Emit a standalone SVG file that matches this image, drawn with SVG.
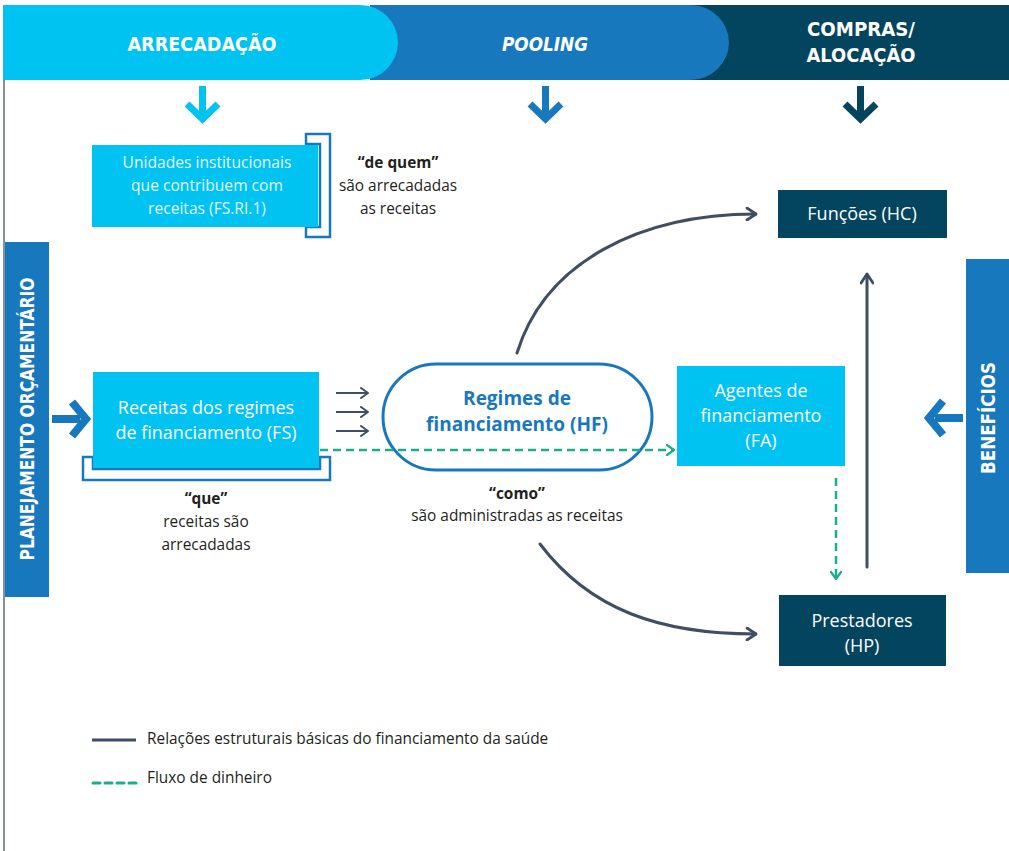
<svg xmlns="http://www.w3.org/2000/svg" width="1009" height="851" viewBox="0 0 1009 851">
<defs>
<style>
.t{font-family:"Open Sans","Liberation Sans",sans-serif}
.hd{font-family:"DejaVu Sans","Liberation Sans",sans-serif;font-weight:bold;fill:#fff;font-size:20px}
.wt{fill:#fff;font-size:18px}
.bk{fill:#231f20;font-size:15.4px}
.rel{fill:none;stroke:#3f4e62;stroke-width:3;stroke-linecap:round}
.fl{fill:none;stroke:#1aae8a;stroke-width:2.5;stroke-dasharray:8 5}
</style>
<marker id="ah" viewBox="0 0 12 14" refX="11" refY="7" markerWidth="12" markerHeight="14" markerUnits="userSpaceOnUse" orient="auto">
<path d="M2,1 L11,7 L2,13" fill="none" stroke="#3f4e62" stroke-width="2.8" stroke-linecap="round" stroke-linejoin="round"/>
</marker>
<marker id="ahs" viewBox="0 0 10 12" refX="9" refY="6" markerWidth="10" markerHeight="12" markerUnits="userSpaceOnUse" orient="auto">
<path d="M2,1 L9,6 L2,11" fill="none" stroke="#3f4e62" stroke-width="2" stroke-linecap="round" stroke-linejoin="round"/>
</marker>
<marker id="ahg" viewBox="0 0 10 12" refX="9" refY="6" markerWidth="10" markerHeight="12" markerUnits="userSpaceOnUse" orient="auto">
<path d="M2,1 L9,6 L2,11" fill="none" stroke="#1aae8a" stroke-width="2.2" stroke-linecap="round" stroke-linejoin="round"/>
</marker>
</defs>
<rect width="1009" height="851" fill="#fff"/>
<line x1="4" y1="12" x2="4" y2="851" stroke="#5f6b7a" stroke-width="1.5"/>

<g id="header">
<rect x="690" y="5" width="319" height="75" fill="#03445f"/>
<path d="M370,5 H690 A39,37.5 0 0 1 690,80 H370 Z" fill="#1878be"/>
<path d="M3,5 H360 A38,37.5 0 0 1 360,80 H3 Z" fill="#00c3f2"/>
<text class="hd" x="202" y="51" text-anchor="middle" textLength="149" lengthAdjust="spacingAndGlyphs">ARRECADAÇÃO</text>
<text class="hd" x="545" y="51" text-anchor="middle" font-style="italic" textLength="86" lengthAdjust="spacingAndGlyphs">POOLING</text>
<text class="hd" x="861" y="36" text-anchor="middle" textLength="108" lengthAdjust="spacingAndGlyphs">COMPRAS/</text>
<text class="hd" x="861" y="62" text-anchor="middle" textLength="109" lengthAdjust="spacingAndGlyphs">ALOCAÇÃO</text>
</g>

<g id="down-arrows">
<rect x="199" y="86" width="7" height="28" fill="#00c3f2"/>
<path d="M187,104 L202.5,119 L218,104" fill="none" stroke="#00c3f2" stroke-width="7"/>
<rect x="542" y="86" width="7" height="28" fill="#1878be"/>
<path d="M530,104 L545.5,119 L561,104" fill="none" stroke="#1878be" stroke-width="7"/>
<rect x="857" y="86" width="7" height="28" fill="#03445f"/>
<path d="M845,104 L860.5,119 L876,104" fill="none" stroke="#03445f" stroke-width="7"/>
</g>

<g id="unidades">
<path d="M306,134 H330 V237 H306 V227 H320 V144 H306 Z" fill="#fff" stroke="#1878be" stroke-width="2.5"/>
<rect x="92" y="145" width="226" height="82" fill="#00c3f2"/>
<text class="t" font-size="15.6" fill="#e4f8fe" text-anchor="middle"><tspan x="207" y="168">Unidades institucionais</tspan><tspan x="207" y="191">que contribuem com</tspan><tspan x="207" y="214">receitas (FS.RI.1)</tspan></text>
<text class="t bk" text-anchor="middle"><tspan x="398" y="168" font-weight="bold">“de quem”</tspan><tspan x="398" y="191">são arrecadadas</tspan><tspan x="398" y="214">as receitas</tspan></text>
</g>

<g id="planejamento">
<rect x="5" y="242" width="44" height="355" fill="#1878be"/>
<text class="hd" transform="translate(34,419) rotate(-90)" text-anchor="middle" font-size="18" textLength="283" lengthAdjust="spacingAndGlyphs">PLANEJAMENTO ORÇAMENTÁRIO</text>
<rect x="52" y="415" width="28" height="8" fill="#1878be"/>
<path d="M72,402 L86,419 L72,436" fill="none" stroke="#1878be" stroke-width="8"/>
</g>

<g id="fs">
<path d="M83,457 V480 H330 V457 H320 V469 H93 V457 Z" fill="#fff" stroke="#1878be" stroke-width="2.5"/>
<rect x="93" y="372" width="226" height="96" fill="#00c3f2"/>
<text class="t wt" text-anchor="middle"><tspan x="206" y="414">Receitas dos regimes</tspan><tspan x="206" y="439">de financiamento (FS)</tspan></text>
<text class="t bk" text-anchor="middle"><tspan x="206" y="504" font-weight="bold">“que”</tspan><tspan x="206" y="527">receitas são</tspan><tspan x="206" y="550">arrecadadas</tspan></text>
</g>

<g id="hf">
<rect x="383" y="364" width="269" height="106" rx="53" ry="53" fill="#fff" stroke="#1878be" stroke-width="3"/>
<text class="t" font-size="19" font-weight="bold" fill="#1878be" text-anchor="middle"><tspan x="517" y="405">Regimes de</tspan><tspan x="517" y="431">financiamento (HF)</tspan></text>
<text class="t bk" text-anchor="middle"><tspan x="517" y="499" font-weight="bold">“como”</tspan><tspan x="517" y="521">são administradas as receitas</tspan></text>
</g>

<g id="fa">
<rect x="677" y="366" width="168" height="100" fill="#00c3f2"/>
<text class="t wt" text-anchor="middle"><tspan x="761" y="397">Agentes de</tspan><tspan x="761" y="422">financiamento</tspan><tspan x="761" y="447">(FA)</tspan></text>
</g>

<g id="hc">
<rect x="778" y="190" width="169" height="48" fill="#03445f"/>
<text class="t wt" x="862" y="220" text-anchor="middle">Funções (HC)</text>
</g>

<g id="hp">
<rect x="779" y="595" width="167" height="71" fill="#03445f"/>
<text class="t wt" text-anchor="middle"><tspan x="862" y="627">Prestadores</tspan><tspan x="862" y="652">(HP)</tspan></text>
</g>

<g id="beneficios">
<rect x="966" y="259" width="43" height="314" fill="#1878be"/>
<text class="hd" transform="translate(995,418) rotate(-90)" text-anchor="middle" font-size="18" textLength="112" lengthAdjust="spacingAndGlyphs">BENEFÍCIOS</text>
<rect x="935" y="414" width="28" height="8" fill="#1878be"/>
<path d="M943,401 L929,418 L943,435" fill="none" stroke="#1878be" stroke-width="8"/>
</g>

<g id="connectors">
<line x1="336" y1="393" x2="368" y2="393" stroke="#3f4e62" stroke-width="2" marker-end="url(#ahs)"/>
<line x1="336" y1="412" x2="368" y2="412" stroke="#3f4e62" stroke-width="2" marker-end="url(#ahs)"/>
<line x1="336" y1="431" x2="368" y2="431" stroke="#3f4e62" stroke-width="2" marker-end="url(#ahs)"/>
<path class="fl" d="M320,450 H674" marker-end="url(#ahg)"/>
<path class="fl" d="M836,478 V579" marker-end="url(#ahg)"/>
<path class="rel" d="M517,353 C545,262 640,214 756,214" marker-end="url(#ah)"/>
<path class="rel" d="M540,544 C590,610 660,634 756,634" marker-end="url(#ah)"/>
<path class="rel" d="M867,567 V274" marker-end="url(#ah)"/>
</g>

<g id="legend">
<line x1="92" y1="740" x2="136" y2="740" stroke="#3f4e62" stroke-width="3"/>
<text class="t bk" x="147" y="744">Relações estruturais básicas do financiamento da saúde</text>
<line x1="93" y1="783" x2="136" y2="783" stroke="#1aae8a" stroke-width="3" stroke-dasharray="7 5" stroke-linecap="round"/>
<text class="t bk" x="147" y="783">Fluxo de dinheiro</text>
</g>
</svg>
